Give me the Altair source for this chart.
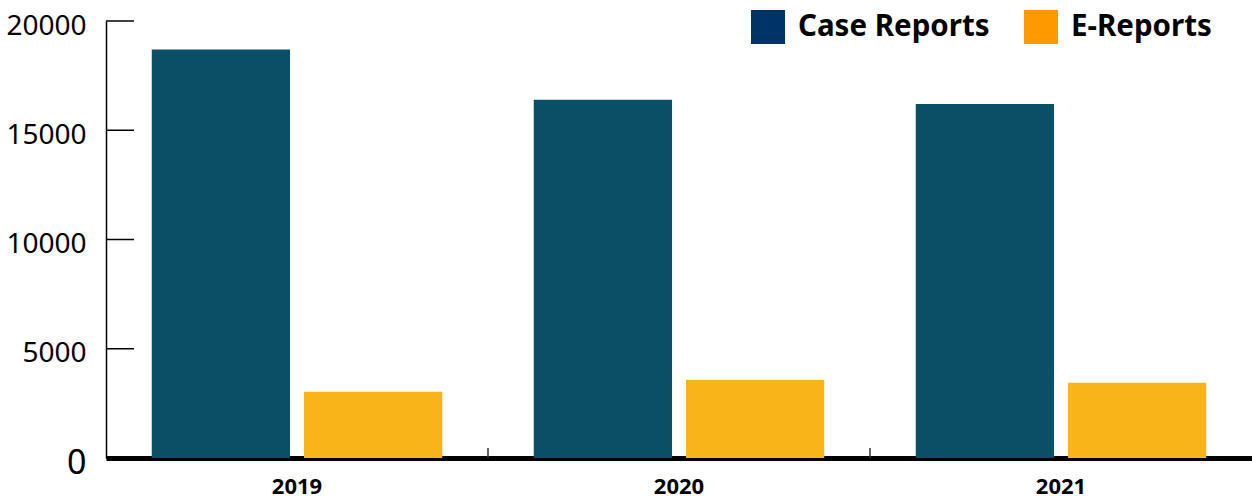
import altair as alt
import pandas as pd

years = ["2019", "2020", "2021"]
series = ["Case Reports", "E-Reports"]
case_reports = [18700, 16400, 16200]
e_reports = [3030, 3580, 3440]
y_ticks = [0, 5000, 10000, 15000, 20000]
band_edges = [1, 2]

bar_colors = ["#0b4f67", "#f9b419"]
legend_colors = ["#003366", "#ff9900"]

rows = []
for i, yr in enumerate(years):
    rows.append({"year": yr, "series": series[0], "value": case_reports[i]})
    rows.append({"year": yr, "series": series[1], "value": e_reports[i]})
df = pd.DataFrame(rows)

W, H = 1146, 437
FONT = "Noto Sans"

x_enc = alt.X("year:N", title=None, sort=years,
              scale=alt.Scale(paddingInner=0, paddingOuter=0),
              axis=alt.Axis(labelAngle=0, labelFont=FONT, labelFontSize=22,
                            labelFontWeight="bold", labelColor="black",
                            labelPadding=18, ticks=False, tickSize=0, grid=False,
                            domainColor="black", domainWidth=5))
y_enc = alt.Y("value:Q", title=None,
              scale=alt.Scale(domain=[0, 20000], nice=False, zero=True),
              axis=alt.Axis(values=y_ticks, grid=False, ticks=False, tickSize=0,
                            format="d",
                            labelPadding=20, labelFont=FONT,
                            labelFontSize={"condition": {"test": "datum.value == 0", "value": 34},
                                           "value": 28},
                            labelColor="black", labelOffset=5,
                            domainColor="black", domainWidth=1.5))

bars = alt.Chart(df).mark_bar().encode(
    x=x_enc,
    xOffset=alt.XOffset("series:N", sort=series,
                        scale=alt.Scale(paddingInner=0.0915, paddingOuter=0.3007)),
    y=y_enc,
    color=alt.Color("series:N", sort=series,
                    scale=alt.Scale(domain=series, range=bar_colors), legend=None),
)

legend_layer = alt.Chart(df).mark_square(opacity=0).encode(
    y=alt.value(0),
    color=alt.Color("series:N", sort=series,
                    scale=alt.Scale(domain=series, range=legend_colors),
                    legend=alt.Legend(orient="none", legendX=645, legendY=-11,
                                      direction="horizontal", title=None,
                                      symbolType="square", symbolSize=1156,
                                      symbolOpacity=1, symbolStrokeWidth=0,
                                      labelFont=FONT, labelFontSize=29.5,
                                      labelFontWeight="bold", labelColor="black",
                                      labelOffset=13, columnPadding=34,
                                      labelLimit=0)),
)

ytick_df = pd.DataFrame({"v": y_ticks})
ytick_rules = alt.Chart(ytick_df).mark_rule(color="black", strokeWidth=1.5).encode(
    y=alt.Y("v:Q", scale=alt.Scale(domain=[0, 20000], nice=False)),
    x=alt.value(0), x2=alt.value(28),
)

edge_df = pd.DataFrame({"e": band_edges})
xtick_rules = alt.Chart(edge_df).mark_rule(color="#333333", strokeWidth=1.5).encode(
    x=alt.X("e:Q", scale=alt.Scale(domain=[0, 3], nice=False), axis=None),
    y=alt.value(H - 10), y2=alt.value(H),
)

chart = alt.layer(bars, legend_layer, ytick_rules, xtick_rules).resolve_scale(
    color="independent", x="independent"
).properties(
    width=W, height=H,
    background="white",
    padding={"left": 106, "top": 21, "right": 0, "bottom": 43},
    autosize=alt.AutoSizeParams(type="none"),
).configure_axis(grid=False).configure_view(stroke=None)

chart.save("out.html", embed_options={"renderer": "svg", "actions": False})
